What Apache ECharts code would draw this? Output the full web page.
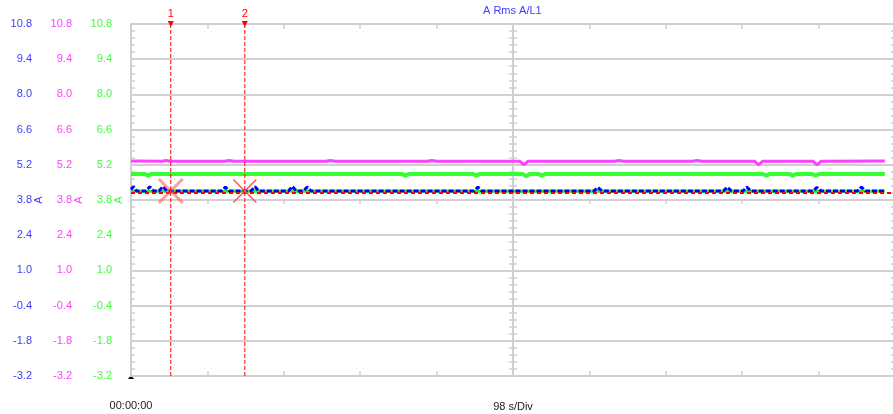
<!DOCTYPE html>
<html><head><meta charset="utf-8">
<script src="https://cdn.jsdelivr.net/npm/echarts@6/dist/echarts.min.js"></script>
<style>html,body{margin:0;padding:0;background:#fff}#c{width:893px;height:414px}</style>
</head><body><div id="c"></div>
<script>
// ---- tick labels / axis texts ----
const yTicks = [-3.2, -1.8, -0.4, 1.0, 2.4, 3.8, 5.2, 6.6, 8.0, 9.4, 10.8];
const xMin = 0, xMax = 980, xDiv = 98;
const titleText = 'A Rms A/L1';
const startLabel = '00:00:00';
const divLabel = '98 s/Div';
const unitName = 'A';
const cursorTimes = [51, 146];
const cursorNames = ['1', '2'];
const cursorValue = 4.16;
const refLevel = 4.08;

// ---- series values (time in s, value in A) ----
const blueT = [0, 3, 7, 19, 24, 29, 36, 41, 46, 116, 121, 126, 154, 159, 164, 202, 207, 212, 221, 226, 231, 440, 445, 450, 594, 599, 604, 760, 765, 770, 785, 790, 795, 875, 880, 885, 932, 937, 942, 967];
const blueV = [4.22, 4.33, 4.16, 4.16, 4.33, 4.16, 4.16, 4.34, 4.16, 4.16, 4.31, 4.16, 4.16, 4.33, 4.16, 4.16, 4.34, 4.16, 4.16, 4.31, 4.16, 4.16, 4.31, 4.16, 4.16, 4.30, 4.16, 4.16, 4.31, 4.16, 4.16, 4.31, 4.16, 4.16, 4.30, 4.16, 4.16, 4.31, 4.16, 4.16];
const magT = [0, 40, 45, 50, 120, 126, 132, 250, 256, 262, 380, 386, 392, 499, 504, 509, 620, 626, 632, 720, 726, 732, 800, 805, 810, 875, 880, 885, 967];
const magV = [5.35, 5.34, 5.37, 5.34, 5.34, 5.37, 5.34, 5.34, 5.37, 5.34, 5.34, 5.37, 5.34, 5.34, 5.20, 5.34, 5.34, 5.37, 5.34, 5.34, 5.37, 5.34, 5.34, 5.20, 5.34, 5.34, 5.20, 5.34, 5.35];
const greenT = [0, 18, 22, 26, 348, 352, 356, 439, 443, 447, 503, 507, 511, 523, 527, 531, 811, 815, 819, 845, 849, 853, 874, 878, 882, 967];
const greenV = [4.83, 4.83, 4.77, 4.83, 4.83, 4.77, 4.83, 4.83, 4.77, 4.83, 4.83, 4.74, 4.83, 4.83, 4.77, 4.83, 4.83, 4.77, 4.83, 4.83, 4.77, 4.83, 4.83, 4.77, 4.83, 4.83];
const greenLowT = [0, 967];
const greenLowV = [4.15, 4.15];

// ---- build ----
const zip = (t, v) => t.map((x, i) => [x, v[i]]);
const yMinor = [];
for (let i = 0; i < yTicks.length - 1; i++) {
  const step = (yTicks[i + 1] - yTicks[i]) / 5;
  for (let j = 1; j < 5; j++) yMinor.push(yTicks[i] + j * step);
}
const FONT = 'Liberation Sans';
const GRID = '#d0d0d0';
const BLUE = '#3c3cff', MAG = '#ff40ff', GRN = '#3cff3c';
const yMin = yTicks[0], yMax = yTicks[yTicks.length - 1];

function labelAxis(color, offset) {
  return {
    type: 'value', position: 'left', offset, min: yMin, max: yMax,
    axisLine: { show: false, onZero: false }, axisTick: { show: false, customValues: yTicks },
    splitLine: { show: false },
    axisLabel: { customValues: yTicks, color, fontFamily: FONT, fontSize: 11, margin: 12,
      formatter: v => v.toFixed(1) },
    name: unitName, nameLocation: 'middle', nameRotate: 90, nameGap: 0, nameMoveOverlap: false,
    nameTextStyle: { color, fontFamily: FONT, fontSize: 11 }
  };
}
function tickAxis(position, offset, inside, length, showLine) {
  return {
    type: 'value', position, offset, min: yMin, max: yMax,
    axisLine: { show: !!showLine, onZero: false, lineStyle: { color: GRID, width: 2 } },
    axisTick: { show: true, inside, length, customValues: yMinor, lineStyle: { color: GRID, width: 1.5 } },
    axisLabel: { show: false }, splitLine: { show: false }
  };
}

const xSvc = { min: xMin, max: xMax, interval: xDiv };
const cursorSeries = cursorTimes.map((t, i) => ({
  type: 'line', name: 'cursor' + cursorNames[i], xAxisIndex: 0, yAxisIndex: 0, z: 5,
  data: [{ value: [t, yMin], symbol: 'none' },
         { value: [t, yMax], symbol: 'triangle', symbolSize: 6, symbolRotate: 180,
           label: { show: true, position: 'top', distance: 2, formatter: cursorNames[i] } }],
  showSymbol: true, silent: true,
  itemStyle: { color: '#ff0000' },
  label: { show: false, color: '#ff0000', fontFamily: FONT, fontSize: 11 },
  lineStyle: { color: '#ff0000', width: 1, type: [4, 2] }
}));

const option = {
  animation: false,
  grid: { left: 131, top: 24, width: 764, height: 352, containLabel: false, outerBoundsMode: 'none' },
  graphic: [
    { type: 'text', left: 512 - 29, top: 5, style: { text: titleText, fill: BLUE, font: '11px "Liberation Sans"' } },
    { type: 'polygon', shape: { points: [[131, 375], [128, 379], [134, 379]] }, style: { fill: '#000' } }
  ],
  xAxis: [
    Object.assign({ type: 'value', position: 'bottom',
      axisLine: { show: true, onZero: false, lineStyle: { color: GRID, width: 2 } },
      axisTick: { show: true, inside: true, length: 5, lineStyle: { color: GRID, width: 1.5 } },
      axisLabel: { color: '#222', fontFamily: FONT, fontSize: 11, margin: 24,
        formatter: v => (v === 0 ? startLabel : '') },
      splitLine: { show: false },
      name: divLabel, nameLocation: 'middle', nameGap: 25, nameMoveOverlap: false,
      nameTextStyle: { color: '#222', fontFamily: FONT, fontSize: 11 } }, xSvc),
    Object.assign({ type: 'value', position: 'top',
      axisLine: { show: true, onZero: false, lineStyle: { color: GRID, width: 2 } },
      axisTick: { show: true, inside: true, length: 5, lineStyle: { color: GRID, width: 1.5 } },
      axisLabel: { show: false }, splitLine: { show: false } }, xSvc),
    Object.assign({ type: 'value', position: 'bottom', offset: -176,
      axisLine: { show: false, onZero: false },
      axisTick: { show: true, inside: false, length: 4, lineStyle: { color: GRID, width: 1.5 } },
      axisLabel: { show: false }, splitLine: { show: false } }, xSvc)
  ],
  yAxis: [
    labelAxis(BLUE, 87),
    labelAxis(MAG, 47),
    labelAxis(GRN, 7),
    { type: 'value', position: 'left', offset: 0, min: yMin, max: yMax,
      axisLine: { show: true, onZero: false, lineStyle: { color: GRID, width: 2 } },
      axisTick: { show: false, customValues: yTicks }, axisLabel: { show: false },
      splitLine: { show: true, lineStyle: { color: GRID, width: 2 } } },
    tickAxis('left', 0, true, 4, false),
    tickAxis('left', -382, true, 4, true),
    tickAxis('left', -382, false, 4, false),
    tickAxis('right', 0, true, 4, false)
  ],
  series: [
    { type: 'line', name: 'greenLow', xAxisIndex: 0, yAxisIndex: 2, data: zip(greenLowT, greenLowV),
      symbol: 'none', silent: true, lineStyle: { color: '#22ee22', width: 3 } },
    { type: 'line', name: 'magenta', xAxisIndex: 0, yAxisIndex: 1, data: zip(magT, magV),
      symbol: 'none', silent: true, lineStyle: { color: MAG, width: 3 } },
    { type: 'line', name: 'green', xAxisIndex: 0, yAxisIndex: 2, data: zip(greenT, greenV),
      symbol: 'none', silent: true, lineStyle: { color: '#33ff33', width: 4 } },
    { type: 'line', name: 'blue', xAxisIndex: 0, yAxisIndex: 0, data: zip(blueT, blueV),
      symbol: 'none', silent: true, lineStyle: { color: '#0000ff', width: 3, type: [5, 2] } },
    { type: 'line', name: 'ref', xAxisIndex: 0, yAxisIndex: 0, data: [], z: 4,
      symbol: 'none', silent: true,
      markLine: { silent: true, animation: false, symbol: 'none', label: { show: false },
        lineStyle: { color: '#ff0000', width: 2, type: [4, 3] },
        data: [{ yAxis: refLevel, lineStyle: { color: '#ff0000', width: 2, type: [4, 3] } }] },
      markPoint: { silent: true, animation: false, label: { show: false },
        data: [
          { coord: [cursorTimes[0], cursorValue], symbol: 'path://M0,2 L2,0 L12,10 L22,0 L24,2 L14,12 L24,22 L22,24 L12,14 L2,24 L0,22 L10,12 Z',
            symbolSize: 26, itemStyle: { color: 'rgba(255,80,80,0.55)' } },
          { coord: [cursorTimes[1], cursorValue], symbol: 'path://M0,1 L1,0 L12,11 L23,0 L24,1 L13,12 L24,23 L23,24 L12,13 L1,24 L0,23 L11,12 Z',
            symbolSize: 24, itemStyle: { color: '#ff5050' } }
        ] } }
  ].concat(cursorSeries)
};
const chart = echarts.init(document.getElementById('c'), null, { renderer: 'canvas' });
chart.setOption(option);
</script>
</body></html>
